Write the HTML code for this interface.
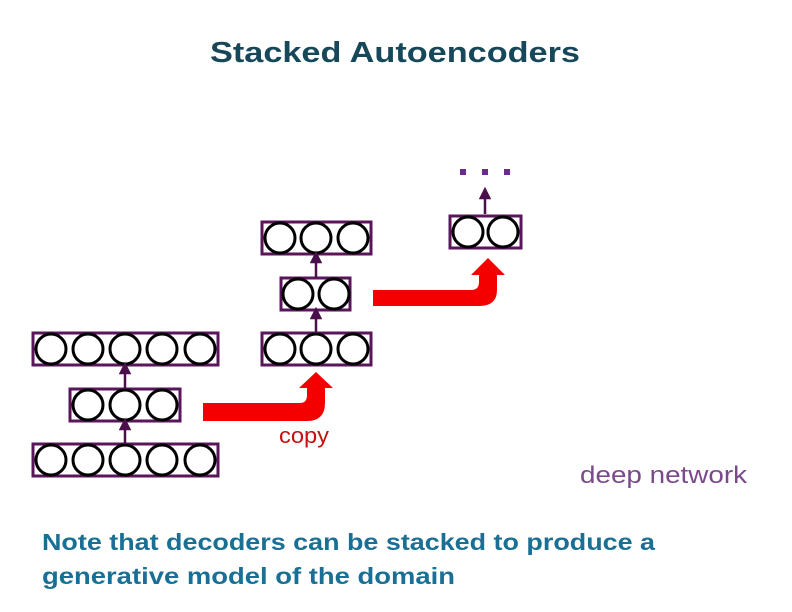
<!DOCTYPE html>
<html><head><meta charset="utf-8"><style>html,body{margin:0;padding:0;background:#fff}svg{display:block}</style></head>
<body>
<svg width="792" height="612" viewBox="0 0 792 612" xmlns="http://www.w3.org/2000/svg">
<defs>
<marker id="ah" markerWidth="5" markerHeight="5" refX="2.5" refY="2.5" orient="auto"><path d="M0,0 L5,2.5 L0,5 Z" fill="#4b0f4b"/></marker>
</defs>
<text x="395" y="62" text-anchor="middle" font-family="Liberation Sans, sans-serif" font-weight="bold" font-size="29" fill="#17485a" textLength="370" lengthAdjust="spacingAndGlyphs">Stacked Autoencoders</text>

<g fill="#fff" stroke="#5a165a" stroke-width="3">
<rect x="33" y="444" width="185" height="32"/>
<rect x="70" y="389" width="110" height="32"/>
<rect x="33" y="333" width="185" height="32"/>
<rect x="262" y="333" width="109" height="32"/>
<rect x="281" y="278" width="69" height="32"/>
<rect x="262" y="222" width="109" height="32"/>
<rect x="450" y="216" width="71" height="32"/>
</g>
<g fill="#fff" stroke="#000" stroke-width="3">
<circle cx="51" cy="460" r="15"/><circle cx="88" cy="460" r="15"/><circle cx="125" cy="460" r="15"/><circle cx="162" cy="460" r="15"/><circle cx="200" cy="460" r="15"/>
<circle cx="88" cy="405" r="15"/><circle cx="125" cy="405" r="15"/><circle cx="162" cy="405" r="15"/>
<circle cx="51" cy="349" r="15"/><circle cx="88" cy="349" r="15"/><circle cx="125" cy="349" r="15"/><circle cx="162" cy="349" r="15"/><circle cx="200" cy="349" r="15"/>
<circle cx="280" cy="349" r="15"/><circle cx="316" cy="349" r="15"/><circle cx="353" cy="349" r="15"/>
<circle cx="298" cy="294" r="15"/><circle cx="334" cy="294" r="15"/>
<circle cx="280" cy="238" r="15"/><circle cx="316" cy="238" r="15"/><circle cx="353" cy="238" r="15"/>
<circle cx="468" cy="232" r="15"/><circle cx="503" cy="232" r="15"/>
</g>
<g stroke="#4b0f4b" stroke-width="2.5" marker-end="url(#ah)">
<line x1="125" y1="444" x2="125" y2="424"/>
<line x1="125" y1="389" x2="125" y2="368"/>
<line x1="316" y1="333" x2="316" y2="313"/>
<line x1="316" y1="278" x2="316" y2="257"/>
<line x1="485" y1="214" x2="485" y2="193"/>
</g>
<g fill="#6b2b8a">
<rect x="460" y="169" width="6" height="6"/><rect x="482" y="169" width="6" height="6"/><rect x="504" y="169" width="6" height="6"/>
</g>
<path d="M203,403 L300,403 Q307,403 307,395 L307,388 L299,388 L316,372 L333,388 L325,388 L325,403 Q325,421 307,421 L203,421 Z" fill="#f50000"/>
<path d="M373,290 L471,290 Q479,290 479,282 L479,275 L471,275 L488,258 L505,275 L497,275 L497,290 Q497,306 479,306 L373,306 Z" fill="#f50000"/>
<text x="279" y="443" font-family="Liberation Sans, sans-serif" font-size="22" fill="#c41010" textLength="50" lengthAdjust="spacingAndGlyphs">copy</text>
<text x="580" y="483" font-family="Liberation Sans, sans-serif" font-size="24" fill="#7a4a8a" textLength="167" lengthAdjust="spacingAndGlyphs">deep network</text>
<text x="42" y="550" font-family="Liberation Sans, sans-serif" font-weight="bold" font-size="23" fill="#1a6f94" textLength="613" lengthAdjust="spacingAndGlyphs">Note that decoders can be stacked to produce a</text>
<text x="42" y="584" font-family="Liberation Sans, sans-serif" font-weight="bold" font-size="23" fill="#1a6f94" textLength="413" lengthAdjust="spacingAndGlyphs">generative model of the domain</text>
</svg>
</body></html>
